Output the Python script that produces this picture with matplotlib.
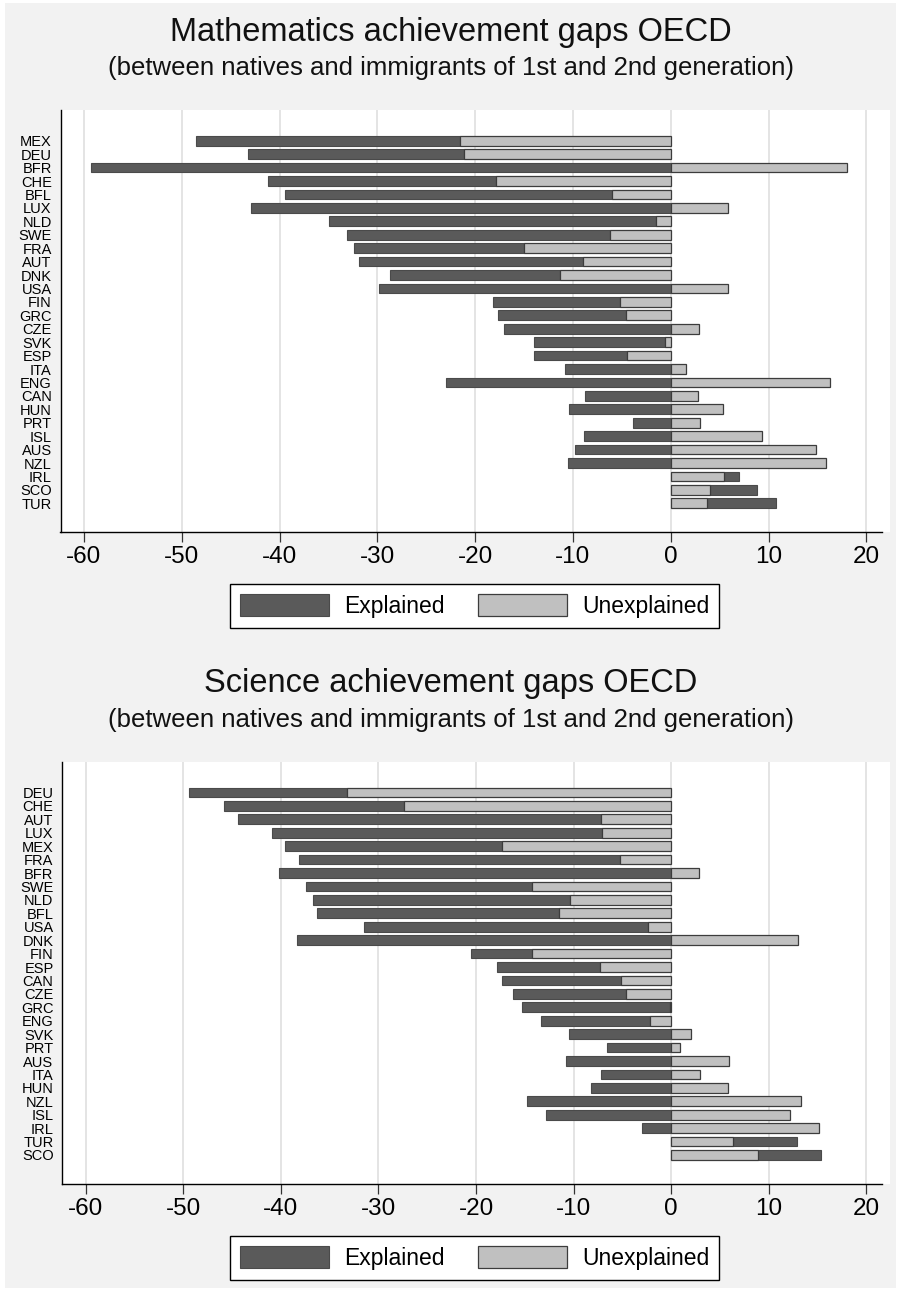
import numpy as np
import matplotlib.pyplot as plt
from matplotlib.patches import Patch, Rectangle

plt.rcParams['font.family'] = ['Liberation Sans', 'DejaVu Sans']
plt.rcParams['axes.unicode_minus'] = False

# mathematics gaps (score points), top to bottom
math_countries = ['MEX', 'DEU', 'BFR', 'CHE', 'BFL', 'LUX', 'NLD', 'SWE', 'FRA', 'AUT',
                  'DNK', 'USA', 'FIN', 'GRC', 'CZE', 'SVK', 'ESP', 'ITA', 'ENG', 'CAN',
                  'HUN', 'PRT', 'ISL', 'AUS', 'NZL', 'IRL', 'SCO', 'TUR']
math_explained = [-27.0, -22.1, -59.3, -23.3, -33.4, -42.9, -33.4, -26.9, -17.4, -22.9,
                  -17.4, -29.8, -13.0, -13.1, -17.1, -13.4, -9.5, -10.8, -23.0, -8.8,
                  -10.4, -3.9, -8.9, -9.8, -10.5, 1.6, 4.8, 7.1]
math_unexplained = [-21.5, -21.1, 18.0, -17.9, -6.0, 5.9, -1.5, -6.2, -15.0, -9.0,
                    -11.3, 5.9, -5.2, -4.6, 2.9, -0.6, -4.5, 1.6, 16.3, 2.8,
                    5.3, 3.0, 9.3, 14.9, 15.9, 5.4, 4.0, 3.7]

# science gaps (score points), top to bottom
sci_countries = ['DEU', 'CHE', 'AUT', 'LUX', 'MEX', 'FRA', 'BFR', 'SWE', 'NLD', 'BFL',
                 'USA', 'DNK', 'FIN', 'ESP', 'CAN', 'CZE', 'GRC', 'ENG', 'SVK', 'PRT',
                 'AUS', 'ITA', 'HUN', 'NZL', 'ISL', 'IRL', 'TUR', 'SCO']
sci_explained = [-16.2, -18.4, -37.2, -33.8, -22.3, -32.8, -40.2, -23.1, -26.3, -24.8,
                 -29.1, -38.3, -6.2, -10.6, -12.2, -11.6, -15.2, -11.1, -10.5, -6.6,
                 -10.8, -7.2, -8.2, -14.8, -12.8, -3.0, 6.6, 6.5]
sci_unexplained = [-33.2, -27.4, -7.2, -7.1, -17.3, -5.3, 2.8, -14.3, -10.4, -11.5,
                   -2.4, 13.0, -14.3, -7.3, -5.1, -4.6, -0.1, -2.2, 2.0, 0.9,
                   5.9, 3.0, 5.8, 13.3, 12.2, 15.1, 6.3, 8.9]

x_ticks = [-60, -50, -40, -30, -20, -10, 0, 10, 20]
subtitle = '(between natives and immigrants of 1st and 2nd generation)'

DARK = '#5a5a5a'
LIGHT = '#c0c0c0'
EDGE = '#3c3c3c'
BG = '#f2f2f2'

W, H = 901, 1291
fig = plt.figure(figsize=(W / 100, H / 100), dpi=100)
fig.patch.set_facecolor('white')
fig.patches.append(Rectangle((5 / W, 3 / H), 891 / W, 1285 / H, transform=fig.transFigure,
                             facecolor=BG, edgecolor='none', zorder=-10))

PLOT_H = 422.3


def draw_panel(off, left, title, countries, expl, unexpl):
    top = 110 + off
    bottom = top + PLOT_H
    right = 882
    fig.patches.append(Rectangle((left / W, 1 - bottom / H), (890 - left) / W, PLOT_H / H,
                                 transform=fig.transFigure, facecolor='white',
                                 edgecolor='none', zorder=-5))
    ax = fig.add_axes([left / W, 1 - bottom / H, (right - left) / W, PLOT_H / H])
    ax.set_facecolor('white')

    expl = np.array(expl)
    unexpl = np.array(unexpl)
    y = np.arange(len(countries))
    # explained stacks on the unexplained part when both have the same sign
    start = np.where(np.sign(expl) == np.sign(unexpl), unexpl, 0.0)

    ax.barh(y, expl, left=start, height=0.72, color=DARK, edgecolor='#4a4a4a',
            linewidth=0.8, zorder=3)
    ax.barh(y, unexpl, height=0.72, color=LIGHT, edgecolor=EDGE, linewidth=0.9, zorder=4)

    ax.set_xlim(-62.4, 21.6)
    ax.set_ylim(29.16, -2.29)
    ax.set_xticks(x_ticks)
    ax.set_xticklabels([str(t) for t in x_ticks])
    ax.set_yticks(y)
    ax.set_yticklabels(countries)
    ax.grid(axis='x', color='#dcdcdc', linewidth=1.1, zorder=0)
    ax.set_axisbelow(True)
    ax.tick_params(axis='x', labelsize=17.5, length=7.2, width=0.9, color='#333333', pad=3)
    ax.tick_params(axis='y', labelsize=10.5, length=0, pad=6.3)
    for s in ['top', 'right']:
        ax.spines[s].set_visible(False)
    for s in ['left', 'bottom']:
        ax.spines[s].set_linewidth(1.0)
        ax.spines[s].set_color('black')

    fig.text(450.5 / W, 1 - (40.7 + off) / H, title, ha='center', va='baseline',
             fontsize=23.5, color='#111111')
    fig.text(450.5 / W, 1 - (75 + off) / H, subtitle, ha='center', va='baseline',
             fontsize=18.5, color='#111111')

    handles = [Patch(facecolor=DARK, edgecolor='#4a4a4a', linewidth=0.8),
               Patch(facecolor=LIGHT, edgecolor=EDGE, linewidth=0.9)]
    leg = fig.legend(handles, ['Explained', 'Unexplained'], loc='upper center',
                     bbox_to_anchor=(474.5 / W, 1 - (584.3 + off) / H), ncol=2,
                     fontsize=16.5, handlelength=3.9, handleheight=1.09,
                     handletextpad=0.65, columnspacing=1.45, borderpad=0.44,
                     borderaxespad=0, fancybox=False, framealpha=1,
                     edgecolor='black', facecolor='white')
    leg.get_frame().set_linewidth(1.0)
    return ax


draw_panel(0, 60.5, 'Mathematics achievement gaps OECD',
           math_countries, math_explained, math_unexplained)
draw_panel(651.7, 62.3, 'Science achievement gaps OECD',
           sci_countries, sci_explained, sci_unexplained)

fig.savefig('out.png', dpi=100, facecolor=fig.get_facecolor())
